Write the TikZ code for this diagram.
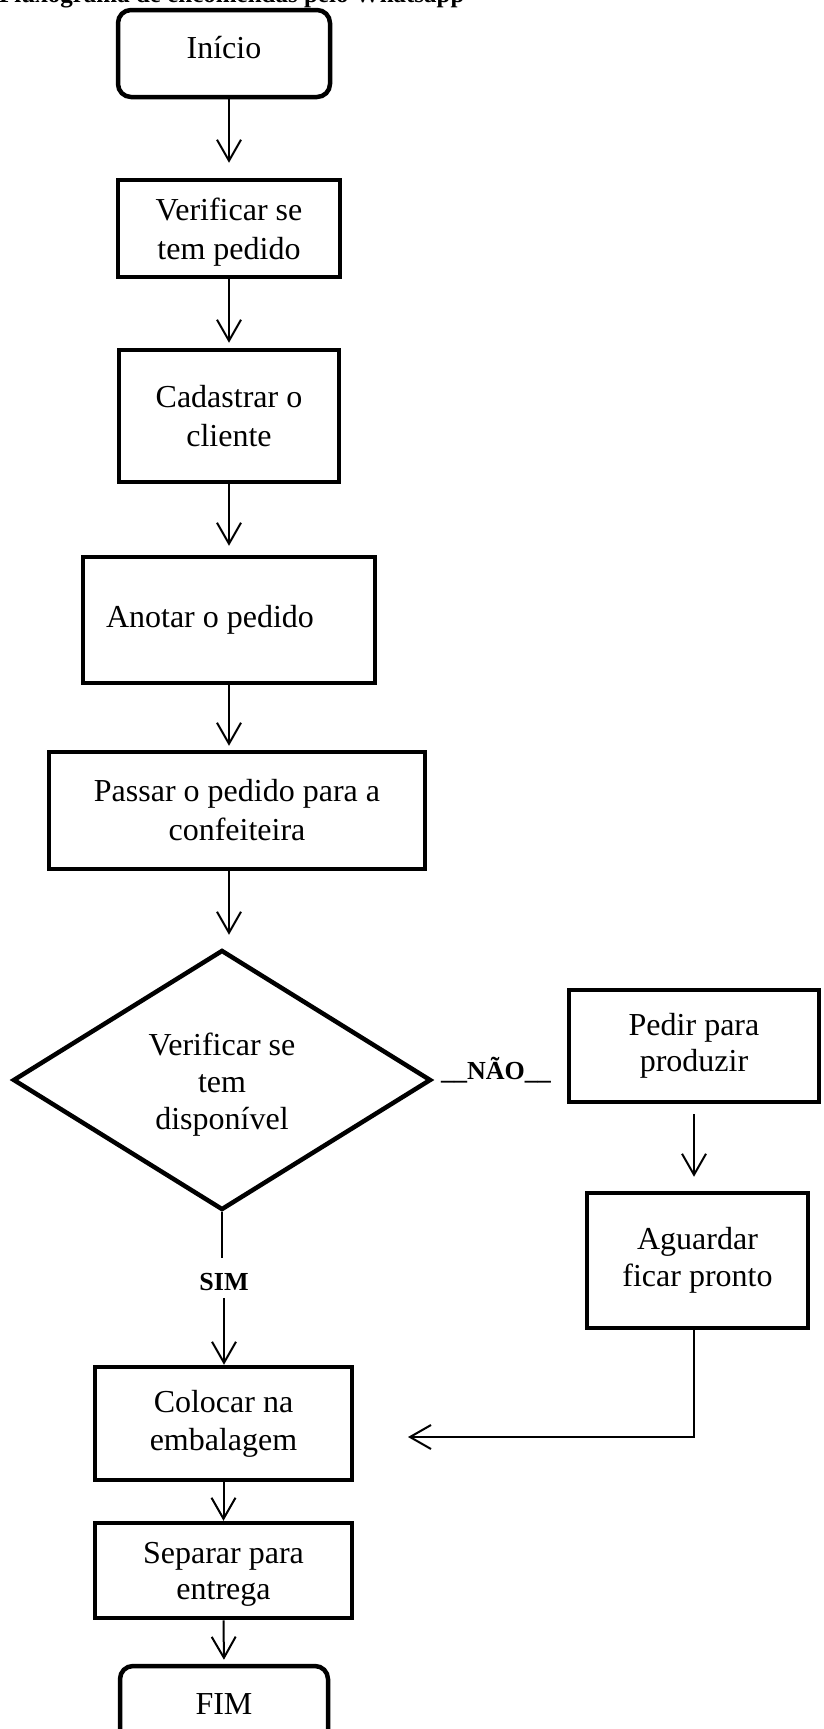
\documentclass[tikz,border=0pt]{standalone}
\usepackage{fontspec}
\setmainfont{Liberation Serif}
\usetikzlibrary{arrows.meta,shapes.geometric}
\newcommand\bodyfont{\fontsize{32}{39}\selectfont}
\newcommand\lblfont{\bfseries\fontsize{26}{30}\selectfont}
\tikzset{
  box/.style={draw, rectangle, line width=4.5pt, inner sep=0pt, align=center, font=\bodyfont},
  term/.style={box, rounded corners=13pt},
  decision/.style={draw, diamond, line width=4.5pt, inner sep=0pt, align=center, font=\bodyfont},
  arr/.style={line width=2pt, -{Straight Barb[length=21pt,width=24pt,line width=2pt]}},
  plainline/.style={line width=2pt},
  lbl/.style={font=\lblfont, inner sep=0pt}
}
\begin{document}
\begin{tikzpicture}[x=1pt,y=-1pt]
\useasboundingbox (0,0) rectangle (824,1729);

\node[anchor=base west, inner sep=0pt, font=\bfseries\fontsize{25}{30}\selectfont] (title) at (-1,2) {Fluxograma de encomendas pelo Whatsapp};

\node[term, minimum width=212pt, minimum height=87pt] (ini) at (224,53.5) {\raisebox{-4.5pt}[0pt][0pt]{Início}};
\node[box, minimum width=222pt, minimum height=97pt] (ver) at (229,228.5) {\rule{0pt}{30pt}Verificar se\\tem pedido};
\node[box, minimum width=220pt, minimum height=132pt] (cad) at (229,416) {Cadastrar o\\cliente};
\node[box, minimum width=292pt, minimum height=126pt] (ano) at (229,620) {Anotar o pedido\hspace*{38pt}};
\node[box, minimum width=376pt, minimum height=117pt] (pas) at (237,810.5) {Passar o pedido para a\\confeiteira};
\node[decision, minimum width=418pt, minimum height=260pt] (dia) at (222,1080) {\rule{0pt}{32pt}Verificar se\\[-2pt]tem\\[-2pt]disponível};
\node[box, minimum width=250pt, minimum height=112pt] (ped) at (694,1046) {Pedir para\\[-3pt]produzir};
\node[box, minimum width=221pt, minimum height=135pt] (agu) at (697.5,1260.5) {Aguardar\\[-2pt]ficar pronto};
\node[box, minimum width=257pt, minimum height=113pt] (col) at (223.5,1423.5) {Colocar na\\[-1pt]embalagem};
\node[box, minimum width=257pt, minimum height=95pt] (sep) at (223.5,1570.5) {\rule{0pt}{28pt}Separar para\\[-3pt]entrega};
\node[term, minimum width=208pt, minimum height=87pt] (fim) at (224,1709.5) {\raisebox{-4.5pt}[0pt][0pt]{FIM}};

\node[lbl] (nao) at (496,1070) {\_\_NÃO\_\_};
\node[lbl] (sim) at (224,1282) {SIM};
\coordinate (ret) at (408,1437);

\draw[arr, shorten >=15pt] (ver.north |- ini.south) -- (ver.north);
\draw[arr, shorten >=5pt] (ver.south) -- (cad.north);
\draw[arr, shorten >=9pt] (cad.south) -- (ano.north);
\draw[arr, shorten >=4pt] (ano.south) -- (ano.south |- pas.north);
\draw[arr, shorten >=13pt] (ano.south |- pas.south) -- (ano.south |- dia.north);
\draw[arr, shorten <=10pt, shorten >=14pt] (ped.south) -- (ped.south |- agu.north);
\draw[plainline, shorten >=15pt] (dia.south) -- (dia.south |- sim.north);
\draw[arr, shorten <=7pt] (sim.south) -- (sim.south |- col.north);
\draw[arr] (agu.south -| ped.south) |- (ret);
\draw[arr] (col.south) -- (sep.north);
\draw[arr, shorten >=4pt] (sep.south) -- (fim.north);
\end{tikzpicture}
\end{document}
